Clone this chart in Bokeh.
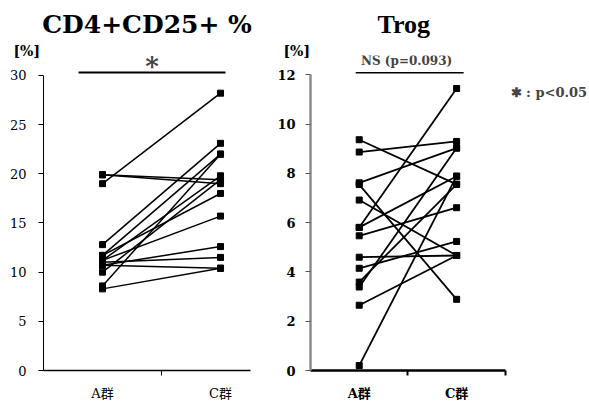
from bokeh.plotting import figure
from bokeh.layouts import row
from bokeh.models import FixedTicker, Label, Range1d, Title
from bokeh.embed import file_html
from bokeh.resources import INLINE

# ---- data ----
groups = ["A群", "C群"]

cd4_A = [19.9, 19.9, 19.0, 12.8, 11.7, 11.7, 11.2, 11.2, 10.7, 10.7, 10.0, 8.6, 8.3, 11.0]
cd4_C = [19.4, 19.0, 28.2, 23.1, 22.0, 18.0, 19.8, 15.7, 12.6, 10.4, 19.4, 22.0, 10.4, 11.5]

trog_A = [9.37, 8.87, 7.62, 7.55, 6.92, 5.81, 5.81, 5.47, 4.60, 4.15, 3.59, 3.39, 2.65, 0.20]
trog_C = [7.56, 9.30, 9.03, 2.89, 4.67, 11.45, 7.89, 6.61, 4.67, 5.24, 7.56, 9.03, 4.67, 7.89]

cd4_ticks = [0, 5, 10, 15, 20, 25, 30]
trog_ticks = [0, 2, 4, 6, 8, 10, 12]

SERIF = "DejaVu Serif"
TIMES = "Liberation Serif"
CJK = 'DejaVu Serif, "Noto Sans CJK JP"'

xpos = list(range(len(groups)))


def base_fig(width, xr, yr, bl, br, bt, bb):
    p = figure(width=width, height=403, x_range=Range1d(*xr), y_range=Range1d(*yr),
               output_backend="svg", toolbar_location=None,
               min_border_left=bl, min_border_right=br, min_border_top=bt, min_border_bottom=bb)
    p.outline_line_color = None
    p.xgrid.visible = False
    p.ygrid.visible = False
    p.background_fill_color = "white"
    p.border_fill_color = "white"
    return p


def draw_pairs(p, a_vals, c_vals, lw):
    xs = [xpos for _ in a_vals]
    ys = [[a, c] for a, c in zip(a_vals, c_vals)]
    p.multi_line(xs=xs, ys=ys, line_color="black", line_width=lw)
    p.scatter(x=[xpos[0]] * len(a_vals), y=a_vals, marker="square", size=6,
              fill_color="black", line_color="black")
    p.scatter(x=[xpos[1]] * len(c_vals), y=c_vals, marker="square", size=6,
              fill_color="black", line_color="black")


def style_title(t, text, size, align, offset, standoff, font=SERIF):
    t.text = text
    t.text_font = font
    t.text_font_style = "bold"
    t.text_font_size = size
    t.text_color = "black"
    t.align = align
    t.offset = offset
    t.standoff = standoff


# ---------------- left panel ----------------
p1 = base_fig(270, (-0.5, 1.254), (0, 32.03), 43, 20, 55, 33)
draw_pairs(p1, cd4_A, cd4_C, 1.5)

ya = p1.yaxis[0]
ya.ticker = FixedTicker(ticks=cd4_ticks)
ya.bounds = (0, 30)
ya.minor_tick_line_color = None
ya.major_tick_in = 0
ya.major_tick_out = 5
ya.major_label_standoff = 12
ya.major_label_text_font = SERIF
ya.major_label_text_font_size = "13px"
ya.major_label_text_color = "black"
ya.axis_line_color = "black"

xa = p1.xaxis[0]
xa.ticker = FixedTicker(ticks=xpos, minor_ticks=[0.5])
xa.major_label_overrides = {0: groups[0], 1: groups[1]}
xa.major_tick_line_color = None
xa.major_tick_in = 0
xa.major_tick_out = 0
xa.minor_tick_in = 0
xa.minor_tick_out = 5
xa.minor_tick_line_color = "black"
xa.major_label_standoff = 10
xa.major_label_text_font = CJK
xa.major_label_text_font_size = "13px"
xa.major_label_text_color = "black"
xa.axis_line_width = 1.5

p1.segment(x0=[-0.203], y0=[30.3], x1=[1.042], y1=[30.3], line_color="black", line_width=2)
p1.add_layout(Label(x=0.42, y=29.4, text="*", text_align="center",
                    text_font=SERIF, text_font_style="bold", text_font_size="26px"))

style_title(p1.title, "CD4+CD25+ %", "25px", "center", 1, 10)
t1 = Title()
style_title(t1, "[%]", "14px", "left", -30, -6)
p1.add_layout(t1, "above")

# ---------------- right panel ----------------
p2 = base_fig(319, (-0.5, 2.364), (0, 12.79), 40, 0, 53, 32)
draw_pairs(p2, trog_A, trog_C, 1.8)

yb = p2.yaxis[0]
yb.ticker = FixedTicker(ticks=trog_ticks)
yb.bounds = (0, 12)
yb.minor_tick_line_color = None
yb.major_tick_in = 0
yb.major_tick_out = 5
yb.major_tick_line_color = "#555555"
yb.major_label_standoff = 10
yb.major_label_text_font = SERIF
yb.major_label_text_font_style = "bold"
yb.major_label_text_font_size = "13px"
yb.major_label_text_color = "black"
yb.axis_line_color = "#8c8c8c"
yb.axis_line_width = 2.5

xb = p2.xaxis[0]
xb.ticker = FixedTicker(ticks=xpos, minor_ticks=[0.5, 1.5])
xb.bounds = (-0.5, 1.5)
xb.major_label_overrides = {0: groups[0], 1: groups[1]}
xb.major_tick_line_color = None
xb.major_tick_in = 0
xb.major_tick_out = 0
xb.minor_tick_in = 0
xb.minor_tick_out = 5
xb.minor_tick_line_color = "black"
xb.minor_tick_line_width = 2
xb.major_label_standoff = 10
xb.major_label_text_font = CJK
xb.major_label_text_font_style = "bold"
xb.major_label_text_font_size = "13px"
xb.major_label_text_color = "black"
xb.axis_line_width = 2.5

p2.segment(x0=[-0.036], y0=[12.09], x1=[1.072], y1=[12.09], line_color="black", line_width=1.5)
p2.add_layout(Label(x=0.487, y=12.28, text="NS (p=0.093)", text_align="center",
                    text_font=SERIF, text_font_style="bold", text_font_size="12px"))
p2.add_layout(Label(x=1.554, y=10.98, text="✱ : p<0.05", text_align="left",
                    text_font=SERIF, text_font_style="bold", text_font_size="13px"))

style_title(p2.title, "Trog", "26px", "left", 67, 10, font=TIMES)
t2 = Title()
style_title(t2, "[%]", "14px", "left", -27, -6)
p2.add_layout(t2, "above")

layout = row(p1, p2)
open("out.html", "w").write(file_html(layout, INLINE))
